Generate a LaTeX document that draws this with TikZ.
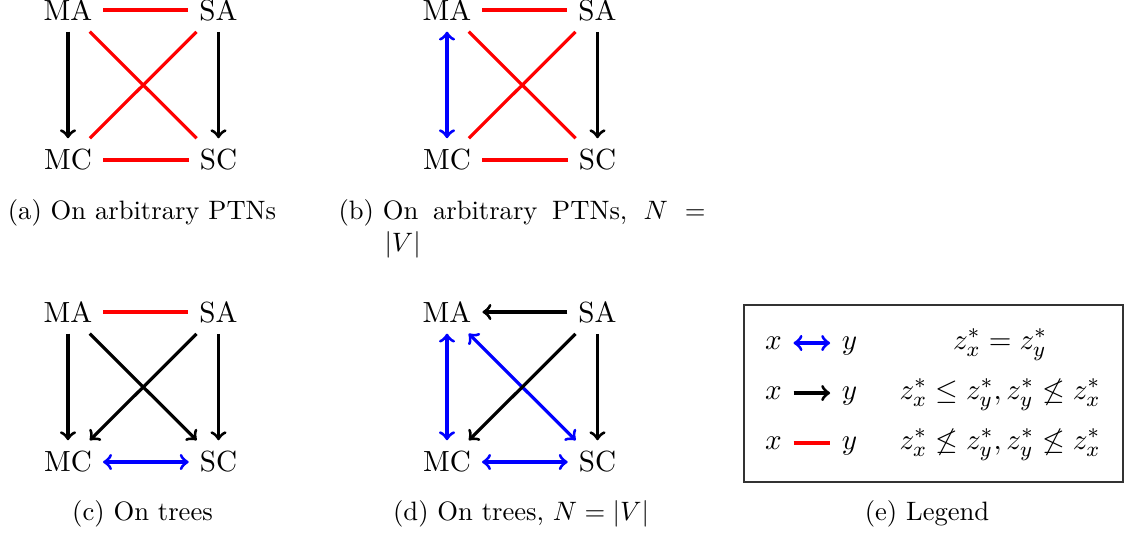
\documentclass[tikz,border=0pt]{standalone}
\begin{document}
\begin{tikzpicture}[x=0.3759pt,y=-0.3759pt,
  bigfont/.style={font=\fontsize{10.95}{13.6}\selectfont},
  v/.style={bigfont, inner xsep=4.2pt, inner ysep=4.2pt, outer sep=0pt},
  lx/.style={bigfont, inner xsep=4.4pt, inner ysep=3pt, outer sep=0pt, text height=4.71pt, text depth=0pt},
  edge/.style={line width=1.2pt},
  inc/.style={edge, red},
  dom/.style={edge, black, ->},
  eqv/.style={edge, blue, <->},
  captext/.style={anchor=base, inner sep=0pt}]
\useasboundingbox (0,0) rectangle (1128,535);

\newcommand\placenodes[3]{%
  \node[v] (#1MA) at (68+#2,10+#3) {MA};
  \node[v] (#1SA) at (218.5+#2,10+#3) {SA};
  \node[v] (#1MC) at (68+#2,160+#3) {MC};
  \node[v] (#1SC) at (218.5+#2,160+#3) {SC};}

% (a)
\placenodes{a}{0}{0}
\draw[inc] (aMA) -- (aSA);
\draw[dom] (aMA) -- (aMC);
\draw[dom] (aSA) -- (aSC);
\draw[inc] (aMA) -- (aSC);
\draw[inc] (aSA) -- (aMC);
\draw[inc] (aMC) -- (aSC);

% (b)
\placenodes{b}{379}{0}
\draw[inc] (bMA) -- (bSA);
\draw[eqv] (bMA) -- (bMC);
\draw[dom] (bSA) -- (bSC);
\draw[inc] (bMA) -- (bSC);
\draw[inc] (bSA) -- (bMC);
\draw[inc] (bMC) -- (bSC);

% (c)
\placenodes{c}{0}{302}
\draw[inc] (cMA) -- (cSA);
\draw[dom] (cMA) -- (cMC);
\draw[dom] (cSA) -- (cSC);
\draw[dom] (cMA) -- (cSC);
\draw[dom] (cSA) -- (cMC);
\draw[eqv] (cMC) -- (cSC);

% (d)
\placenodes{d}{379}{302}
\draw[dom] (dSA) -- (dMA);
\draw[eqv] (dMA) -- (dMC);
\draw[dom] (dSA) -- (dSC);
\draw[eqv] (dMA) -- (dSC);
\draw[dom] (dSA) -- (dMC);
\draw[eqv] (dMC) -- (dSC);

% captions
\node[captext] (capa) at (142,219) {(a) On arbitrary PTNs};
\node[anchor=base west, inner sep=0pt] (capb) at (338,219)
  {\hbox to 138pt{(b)\hspace{0.3333em}On arbitrary PTNs, $N =$}};
\node[anchor=base west, inner sep=0pt] (capbb) at (384,251) {$|V|$};
\node[captext] (capc) at (142.5,520) {(c) On trees};
\node[captext] (capd) at (521,520) {(d) On trees, $N = |V|$};
\node[captext] (cape) at (927,520) {(e) Legend};

% legend
\draw[line width=0.5pt, black!80] (744,305) rectangle (1123,482);
\node[lx] (x1) at (773.5,343) {$x$};
\node[lx] (y1) at (849.5,343) {$y$};
\draw[eqv] (x1) -- (y1);
\node[lx] (x2) at (773.5,393) {$x$};
\node[lx] (y2) at (849.5,393) {$y$};
\draw[dom] (x2) -- (y2);
\node[lx] (x3) at (773.5,443) {$x$};
\node[lx] (y3) at (849.5,443) {$y$};
\draw[inc] (x3) -- (y3);
\node[captext, bigfont] (f1) at (1000,349.3) {$z_x^* = z_y^*$};
\node[captext, bigfont] (f2) at (1000,399.3) {$z_x^* \leq z_y^*, z_y^* \not\leq z_x^*$};
\node[captext, bigfont] (f3) at (1000,449.3) {$z_x^* \not\leq z_y^*, z_y^* \not\leq z_x^*$};
\end{tikzpicture}
\end{document}
